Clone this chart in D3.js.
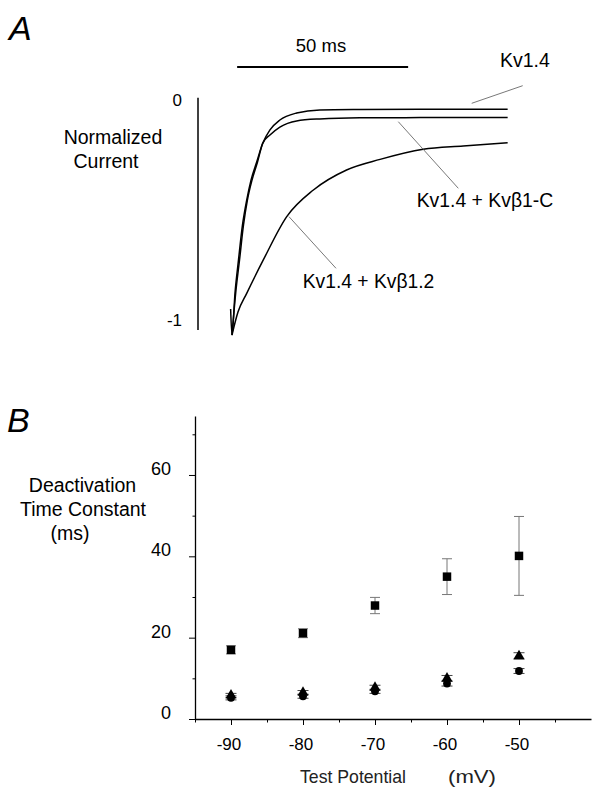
<!DOCTYPE html>
<html>
<head>
<meta charset="utf-8">
<title>Kv1.4 deactivation</title>
<style>
  body { margin: 0; background: #fff; }
  svg { display: block; font-family: "Liberation Sans", Arial, sans-serif; }
  .trace { fill: none; stroke: #000; stroke-width: 1.5px; }
  .leader { stroke: #555; stroke-width: 0.8px; }
</style>
</head>
<body>
<script src="https://d3js.org/d3.v7.min.js"></script>
<script>
// ---- panel A: normalized current traces (time in ms, current normalized) ----
const kv14T = [-0.4, 0, 0.88, 1.9, 3.07, 4.3, 5.56, 7.22, 8.98, 11.1, 14.0, 18.9, 25.7, 37.4, 55, 80.6];
const kv14V = [-0.95, -1.068, -0.877, -0.727, -0.568, -0.455, -0.364, -0.282, -0.197, -0.136, -0.091, -0.059, -0.045, -0.043, -0.042, -0.042];

const kvb1cT = [0, 1.08, 2.2, 3.36, 4.5, 5.85, 7.46, 8.98, 11.1, 14.0, 18.9, 25.7, 37.4, 55, 80.6];
const kvb1cV = [-1.068, -0.877, -0.727, -0.568, -0.455, -0.364, -0.282, -0.197, -0.159, -0.123, -0.095, -0.086, -0.081, -0.080, -0.079];

const kvb12T = [0, 1.75, 4.3, 9.15, 16.0, 23.8, 33.5, 43.3, 55.9, 67.6, 80.6];
const kvb12V = [-1.068, -0.964, -0.879, -0.727, -0.53, -0.409, -0.318, -0.27, -0.224, -0.209, -0.194];

const scaleBarMs = 50;

// ---- panel B: deactivation time constants ----
const potentials = [-90, -80, -70, -60, -50];
const squareVals = [17.0, 21.1, 27.9, 35.0, 40.1];
const squareErr  = [1.0, 1.1, 2.0, 4.4, 9.7];
const triVals    = [5.8, 6.5, 7.7, 10.0, 15.5];
const triErr     = [0.5, 0.5, 0.6, 0.7, 0.8];
const circVals   = [5.2, 5.6, 6.8, 8.7, 11.8];
const circErr    = [0.5, 0.5, 0.5, 0.6, 0.6];
const yTickLabels = [0, 20, 40, 60];
const xTickLabels = [-90, -80, -70, -60, -50];

const width = 592, height = 787;

const svg = d3.select("body").append("svg")
  .attr("width", width)
  .attr("height", height);

// ================= Panel A =================
const xA = d3.scaleLinear().domain([0, 50]).range([232, 403]);
const yA = d3.scaleLinear().domain([-1, 0]).range([320, 100]);

svg.append("text").attr("x", 9).attr("y", 40)
  .attr("font-size", 34).attr("font-style", "italic").text("A");

// scale bar
svg.append("line")
  .attr("x1", xA(1.5)).attr("x2", xA(1.5 + scaleBarMs))
  .attr("y1", 67).attr("y2", 67)
  .attr("stroke", "#000").attr("stroke-width", 2);
svg.append("text").attr("x", 321).attr("y", 52)
  .attr("text-anchor", "middle").attr("font-size", 18.5).text("50 ms");

// vertical axis
svg.append("line")
  .attr("x1", 198).attr("x2", 198)
  .attr("y1", yA(0.01)).attr("y2", yA(-1.045))
  .attr("stroke", "#000").attr("stroke-width", 1.5);
[0, -1].forEach(v => {
  svg.append("text").attr("x", 182).attr("y", yA(v))
    .attr("dy", "0.35em").attr("text-anchor", "end")
    .attr("font-size", 17).text(v);
});

svg.append("text").attr("x", 113).attr("y", 144)
  .attr("text-anchor", "middle").attr("font-size", 19.5).text("Normalized");
svg.append("text").attr("x", 106).attr("y", 168)
  .attr("text-anchor", "middle").attr("font-size", 19.5).text("Current");

const lineA = d3.line()
  .x(d => xA(d[0])).y(d => yA(d[1]))
  .curve(d3.curveMonotoneX);

[[kvb12T, kvb12V], [kvb1cT, kvb1cV], [kv14T, kv14V]].forEach(([ts, vs]) => {
  svg.append("path")
    .datum(ts.map((t, i) => [t, vs[i]]))
    .attr("class", "trace")
    .attr("d", lineA);
});

// labels with leader lines
svg.append("line").attr("class", "leader")
  .attr("x1", 522.7).attr("y1", 85.7).attr("x2", 471.7).attr("y2", 103.3);
svg.append("text").attr("x", 500).attr("y", 66.7)
  .attr("font-size", 19.5).text("Kv1.4");

svg.append("line").attr("class", "leader")
  .attr("x1", 398.3).attr("y1", 121.7).attr("x2", 458.3).attr("y2", 188.3);
svg.append("text").attr("x", 416.7).attr("y", 206.7)
  .attr("font-size", 19.5).attr("textLength", 136.6).attr("lengthAdjust", "spacingAndGlyphs")
  .text("Kv1.4 + Kvβ1-C");

svg.append("line").attr("class", "leader")
  .attr("x1", 289).attr("y1", 216.7).attr("x2", 336).attr("y2", 268.3);
svg.append("text").attr("x", 302.7).attr("y", 287.7)
  .attr("font-size", 19.5).attr("textLength", 131.6).attr("lengthAdjust", "spacingAndGlyphs")
  .text("Kv1.4 + Kvβ1.2");

// ================= Panel B =================
const xB = d3.scaleLinear().domain([-95, -40]).range([195, 591]);
const yB = d3.scaleLinear().domain([0, 74.5]).range([719, 416]);

svg.append("text").attr("x", 7).attr("y", 432)
  .attr("font-size", 34).attr("font-style", "italic").text("B");

svg.append("text").attr("x", 82.5).attr("y", 492)
  .attr("text-anchor", "middle").attr("font-size", 19.5).text("Deactivation");
svg.append("text").attr("x", 83).attr("y", 516)
  .attr("text-anchor", "middle").attr("font-size", 19.5).text("Time Constant");
svg.append("text").attr("x", 70).attr("y", 540)
  .attr("text-anchor", "middle").attr("font-size", 19.5).text("(ms)");

// y axis
const yAxis = d3.axisLeft(yB)
  .tickValues(d3.range(0, 71, 10))
  .tickSizeOuter(0)
  .tickFormat("");
const gy = svg.append("g").attr("transform", "translate(195,0)").call(yAxis);
gy.select(".domain").attr("stroke-width", 1.3);
gy.selectAll(".tick line")
  .attr("x2", d => yTickLabels.includes(d) ? -6 : -2.5);
yTickLabels.forEach(v => {
  svg.append("text").attr("x", 171).attr("y", yB(v))
    .attr("text-anchor", "end").attr("font-size", 18).text(v);
});

// x axis
const xAxis = d3.axisBottom(xB)
  .tickValues(d3.range(-95, -40, 5))
  .tickSizeOuter(0)
  .tickFormat("");
const gx = svg.append("g").attr("transform", "translate(0,719)").call(xAxis);
gx.select(".domain").attr("stroke-width", 1.3);
gx.selectAll(".tick line")
  .attr("y2", d => xTickLabels.includes(d) ? 6 : 3.5);
xTickLabels.forEach(v => {
  svg.append("text").attr("x", xB(v) - 2).attr("y", 750)
    .attr("text-anchor", "middle").attr("font-size", 17).text(v);
});

svg.append("text").attr("x", 300).attr("y", 783)
  .attr("font-size", 19).attr("fill", "#222")
  .attr("textLength", 106).attr("lengthAdjust", "spacingAndGlyphs")
  .text("Test Potential");
svg.append("text").attr("x", 448).attr("y", 783)
  .attr("font-size", 19).attr("fill", "#222")
  .attr("textLength", 48).attr("lengthAdjust", "spacingAndGlyphs")
  .text("(mV)");

// error bars
function errorBars(vals, errs, cap, color) {
  const g = svg.append("g").attr("stroke", color).attr("stroke-width", 1);
  potentials.forEach((p, i) => {
    const x = xB(p), y1 = yB(vals[i] + errs[i]), y0 = yB(vals[i] - errs[i]);
    g.append("line").attr("x1", x).attr("x2", x).attr("y1", y1).attr("y2", y0);
    g.append("line").attr("x1", x - cap).attr("x2", x + cap).attr("y1", y1).attr("y2", y1);
    g.append("line").attr("x1", x - cap).attr("x2", x + cap).attr("y1", y0).attr("y2", y0);
  });
}
errorBars(squareVals, squareErr, 5, "#777");
errorBars(triVals, triErr, 5.5, "#444");
errorBars(circVals, circErr, 5.5, "#444");

// markers
svg.append("g").selectAll("path")
  .data(potentials.map((p, i) => [p, circVals[i]]))
  .join("path")
  .attr("transform", d => `translate(${xB(d[0])},${yB(d[1])})`)
  .attr("d", d3.symbol(d3.symbolCircle, 48));
svg.append("g").selectAll("path")
  .data(potentials.map((p, i) => [p, triVals[i]]))
  .join("path")
  .attr("transform", d => `translate(${xB(d[0])},${yB(d[1])})`)
  .attr("d", d3.symbol(d3.symbolTriangle, 52));
svg.append("g").selectAll("path")
  .data(potentials.map((p, i) => [p, squareVals[i]]))
  .join("path")
  .attr("transform", d => `translate(${xB(d[0])},${yB(d[1])})`)
  .attr("d", d3.symbol(d3.symbolSquare, 72));
</script>
</body>
</html>
